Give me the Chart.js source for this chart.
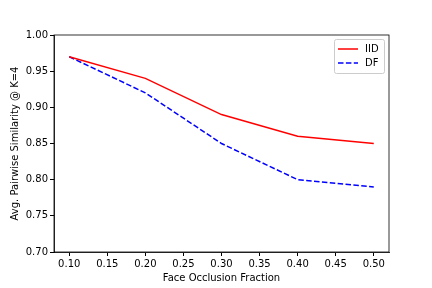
<!DOCTYPE html>
<html>
<head>
<meta charset="utf-8">
<script src="https://cdn.jsdelivr.net/npm/chart.js@4/dist/chart.umd.min.js"></script>
<style>
  html, body { margin: 0; padding: 0; background: #fff; }
  #wrap { width: 432px; height: 288px; }
</style>
</head>
<body>
<div id="wrap"><canvas id="chart" width="432" height="288"></canvas></div>
<script>
// データ
const fractions = [0.10, 0.20, 0.30, 0.40, 0.50];
const iidValues = [0.97, 0.94, 0.89, 0.86, 0.85];
const dfValues = [0.97, 0.92, 0.85, 0.80, 0.79];
const xTicks = [0.10, 0.15, 0.20, 0.25, 0.30, 0.35, 0.40, 0.45, 0.50];
const yTicks = [0.70, 0.75, 0.80, 0.85, 0.90, 0.95, 1.00];

const fontFamily = "'DejaVu Sans', sans-serif";

// 枠線（上・右）
const framePlugin = {
    id: 'frame',
    afterDraw(chart) {
        const { ctx, chartArea: a } = chart;
        ctx.save();
        ctx.strokeStyle = '#000';
        ctx.lineWidth = 0.8;
        ctx.strokeRect(a.left, a.top, a.right - a.left, a.bottom - a.top);
        ctx.restore();
    }
};

// 凡例（matplotlib風）
const legendPlugin = {
    id: 'mplLegend',
    afterDraw(chart) {
        const { ctx, chartArea: a } = chart;
        const w = 50, h = 34;
        const x = a.right - 5 - w, y = a.top + 4;
        ctx.save();
        ctx.fillStyle = 'rgba(255,255,255,0.8)';
        ctx.strokeStyle = '#ccc';
        ctx.lineWidth = 1;
        ctx.beginPath();
        ctx.roundRect(x + 0.5, y + 0.5, w, h, 2);
        ctx.fill();
        ctx.stroke();
        ctx.font = '10px ' + fontFamily;
        ctx.textBaseline = 'middle';
        chart.data.datasets.forEach((ds, i) => {
            const ly = y + 10 + i * 14;
            ctx.strokeStyle = ds.borderColor;
            ctx.lineWidth = 1.5;
            ctx.setLineDash(ds.borderDash || []);
            ctx.beginPath();
            ctx.moveTo(x + 4, ly);
            ctx.lineTo(x + 24, ly);
            ctx.stroke();
            ctx.setLineDash([]);
            ctx.fillStyle = '#000';
            ctx.fillText(ds.label, x + 31, ly + 0.5);
        });
        ctx.restore();
    }
};

new Chart(document.getElementById('chart').getContext('2d'), {
    type: 'line',
    data: {
        datasets: [{
            label: 'IID',
            data: fractions.map((f, i) => ({ x: f, y: iidValues[i] })),
            borderColor: '#ff0000',
            borderWidth: 1.5,
            pointRadius: 0,
            fill: false,
            tension: 0,
        }, {
            label: 'DF',
            data: fractions.map((f, i) => ({ x: f, y: dfValues[i] })),
            borderColor: '#0000ff',
            borderWidth: 1.5,
            borderDash: [5.5, 2.4],
            pointRadius: 0,
            fill: false,
            tension: 0,
        }]
    },
    options: {
        responsive: false,
        animation: false,
        layout: { padding: { top: 35, right: 43, left: 0, bottom: 0 } },
        plugins: {
            legend: { display: false },
            tooltip: { enabled: false },
        },
        scales: {
            x: {
                type: 'linear',
                min: 0.08,
                max: 0.52,
                afterBuildTicks: (scale) => { scale.ticks = xTicks.map(v => ({ value: v })); },
                afterFit: (scale) => { scale.height = 36; },
                ticks: {
                    color: '#000',
                    font: { family: fontFamily, size: 10 },
                    padding: 2,
                    maxRotation: 0,
                    callback: (v) => v.toFixed(2),
                },
                grid: { drawOnChartArea: false, drawTicks: true, tickLength: 4, color: '#000' },
                border: { display: true, color: '#000', width: 0.8 },
                title: {
                    display: true,
                    text: 'Face Occlusion Fraction',
                    color: '#000',
                    font: { family: fontFamily, size: 10 },
                    padding: { top: 0, bottom: 4 },
                },
            },
            y: {
                min: 0.70,
                max: 1.00,
                afterBuildTicks: (scale) => { scale.ticks = yTicks.map(v => ({ value: v })); },
                afterFit: (scale) => { scale.width = 54; },
                ticks: {
                    color: '#000',
                    font: { family: fontFamily, size: 10 },
                    padding: 2,
                    callback: (v) => v.toFixed(2),
                },
                grid: { drawOnChartArea: false, drawTicks: true, tickLength: 4, color: '#000' },
                border: { display: true, color: '#000', width: 0.8 },
                title: {
                    display: true,
                    text: 'Avg. Pairwise Similarity @ K=4',
                    color: '#000',
                    font: { family: fontFamily, size: 10 },
                    padding: { top: 9, bottom: 0 },
                },
            }
        }
    },
    plugins: [framePlugin, legendPlugin]
});
</script>
</body>
</html>
